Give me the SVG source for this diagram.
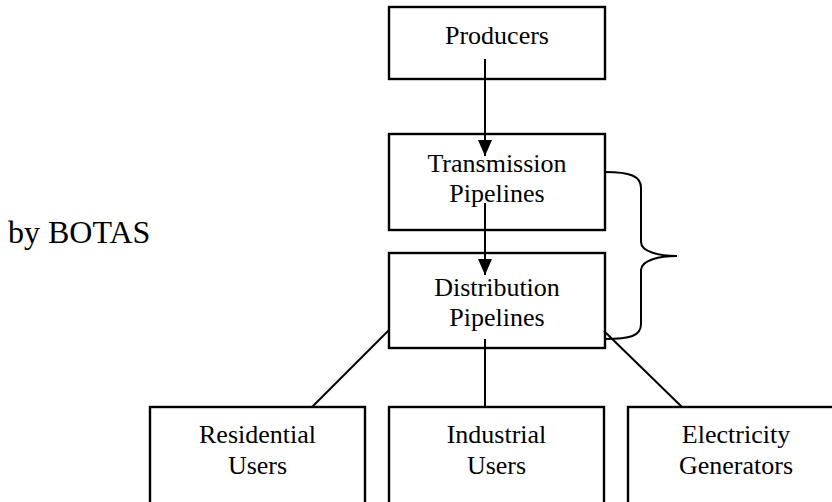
<svg xmlns="http://www.w3.org/2000/svg" width="832" height="502" viewBox="0 0 832 502">
  <style>
    .box { fill: #ffffff; stroke: #000000; stroke-width: 2.4; }
    .lbl { font-family: "Liberation Serif", "Times New Roman", serif; font-size: 26px; fill: #000000; text-anchor: middle; }
    .side { font-family: "Liberation Serif", "Times New Roman", serif; font-size: 32px; fill: #000000; }
    .wire { fill: none; stroke: #000000; stroke-width: 2; }
  </style>
  <defs>
    <marker id="arrow" viewBox="0 0 16 14" refX="16" refY="7" markerWidth="16" markerHeight="14" markerUnits="userSpaceOnUse" orient="auto">
      <path d="M0,0 L16,7 L0,14 Z" fill="#000000"/>
    </marker>
  </defs>
  <rect width="832" height="502" fill="#ffffff"/>

  <text class="side" x="8" y="243">by BOTAS</text>

  <g id="producers">
    <rect class="box" x="389" y="7" width="216" height="72"/>
    <text class="lbl" x="497" y="44">Producers</text>
  </g>
  <g id="transmission">
    <rect class="box" x="389" y="134" width="216" height="96"/>
    <text class="lbl" x="497" y="172">Transmission</text>
    <text class="lbl" x="497" y="202">Pipelines</text>
  </g>
  <g id="distribution">
    <rect class="box" x="389" y="253" width="216" height="95"/>
    <text class="lbl" x="497" y="296">Distribution</text>
    <text class="lbl" x="497" y="326">Pipelines</text>
  </g>
  <g id="residential">
    <rect class="box" x="150" y="407" width="215" height="100"/>
    <text class="lbl" x="257.5" y="443">Residential</text>
    <text class="lbl" x="257.5" y="474">Users</text>
  </g>
  <g id="industrial">
    <rect class="box" x="389" y="407" width="215" height="100"/>
    <text class="lbl" x="496.5" y="443">Industrial</text>
    <text class="lbl" x="496.5" y="474">Users</text>
  </g>
  <g id="electricity">
    <rect class="box" x="628" y="407" width="216" height="100"/>
    <text class="lbl" x="736" y="443">Electricity</text>
    <text class="lbl" x="736" y="474">Generators</text>
  </g>

  <g id="connectors">
    <line class="wire" x1="485" y1="59" x2="485" y2="156" marker-end="url(#arrow)"/>
    <line class="wire" x1="485" y1="203" x2="485" y2="275" marker-end="url(#arrow)"/>
    <line class="wire" x1="485" y1="339" x2="485" y2="407"/>
    <line class="wire" x1="312" y1="407" x2="389" y2="330"/>
    <line class="wire" x1="604" y1="331" x2="682" y2="407"/>
    <path class="wire" d="M605,172 C630,172 641,176 641,188 L641,242 C641,252 660,256 677,256 C660,256 641,260 641,270 L641,324 C641,336 630,339 605,339"/>
  </g>
</svg>
